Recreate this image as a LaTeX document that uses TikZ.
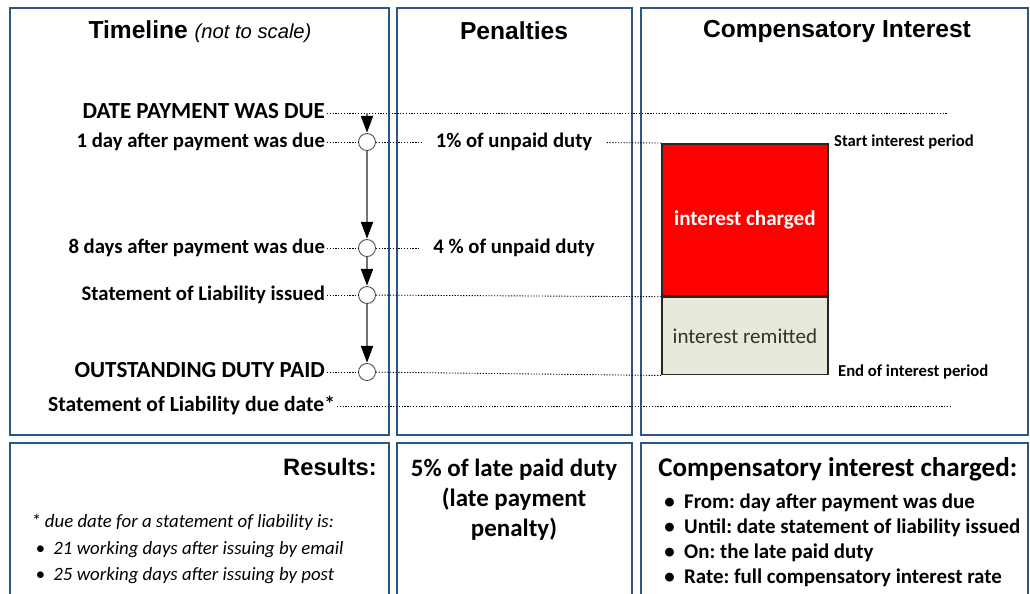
\documentclass[tikz,border=0pt]{standalone}
\usepackage{fontspec}
\setmainfont{Carlito}
\newfontfamily\headfont{Liberation Sans}
\usetikzlibrary{arrows.meta,positioning}
\definecolor{panelblue}{HTML}{2A5785}
\definecolor{remitfill}{HTML}{E5EADB}
\tikzset{
  panel/.style={draw=panelblue,line width=1.1pt},
  head/.style={font=\headfont\bfseries\fontsize{14}{16}\selectfont},
  lbl/.style={font=\bfseries\fontsize{11.8}{13}\selectfont,anchor=east,inner sep=1pt,text height=1.6ex,text depth=.3ex},
  caps/.style={lbl,font=\bfseries\fontsize{13.1}{14}\selectfont},
  pen/.style={font=\bfseries\fontsize{11.8}{13}\selectfont,inner xsep=8pt,text height=1.6ex,text depth=.3ex},
  side/.style={font=\bfseries\fontsize{9.5}{11}\selectfont,anchor=west,inner sep=1pt},
  dots/.style={dash pattern=on 0.7pt off 0.9pt,line width=0.5pt},
  tick/.style={draw=black!70,circle,fill=white,minimum size=0.34cm,inner sep=0pt,line width=0.5pt},
  flow/.style={draw=black!55,line width=0.6pt,-{Triangle[length=9.5pt,width=7pt,black]},shorten >=0.3pt},
  block/.style={draw=black!85,line width=1pt,minimum width=3.32cm,inner sep=0pt,font=\fontsize{12}{14}\selectfont}
}
\begin{document}
\frenchspacing
\begin{tikzpicture}[x=0.02cm,y=-0.02cm]
  \useasboundingbox (0,0) rectangle (1030,593);
  % panels
  \draw[panel] (10,8) rectangle (389,435);
  \draw[panel] (397,8) rectangle (632,435);
  \draw[panel] (641,8) rectangle (1028,435);
  \draw[panel] (10,443) rectangle (389,610);
  \draw[panel] (397,443) rectangle (632,610);
  \draw[panel] (641,443) rectangle (1028,610);

  % headings
  \node[head] (tlhead) at (200,32) {Timeline {\mdseries\itshape\fontsize{11.5}{13}\selectfont(not to scale)}};
  \node[head] (penhead) at (514,31) {Penalties};
  \node[head] (cihead) at (837,31) {Compensatory Interest};

  % timeline
  \coordinate (due) at (367,113);
  \coordinate (dueR) at (948,113);
  \coordinate (sldR) at (950,406);
  \node[tick] (c1) at (367,142) {};
  \node[tick] (c2) at (367,248) {};
  \node[tick] (c3) at (367,295) {};
  \node[tick] (c4) at (367,372) {};
  \coordinate (c2R) at (420,248);

  \node[caps] (l0) at (327,113) {DATE PAYMENT WAS DUE};
  \node[lbl] (l1) at (327,142) {1 day after payment was due};
  \node[lbl] (l2) at (327,248) {8 days after payment was due};
  \node[lbl] (l3) at (327,295) {Statement of Liability issued};
  \node[caps] (l4) at (327,372) {OUTSTANDING DUTY PAID};
  \node[lbl,font=\bfseries\fontsize{12.3}{14}\selectfont] (l5) at (337,406) {Statement of Liability due date*};

  \node[pen] (p1) at (514,142) {1\% of unpaid duty};
  \node[pen] (p2) at (514,248) {4 \% of unpaid duty};

  % interest blocks
  \node[block,fill=red,minimum height=3.04cm,anchor=north west,text=white,font=\bfseries\fontsize{12}{14}\selectfont] (charged) at (661,143) {interest charged};
  \node[block,fill=remitfill,minimum height=1.54cm,below=0pt of charged,text=black!80] (remit) {interest remitted};
  \node[side] (start) at (832,142) {Start interest period};
  \node[side] (end) at (836,372) {End of interest period};

  % dotted guides
  \draw[dots] (l0) -- (dueR);
  \draw[dots] (l1) -- (c1);
  \draw[dots] (c1) -- (p1);
  \draw[dots] (p1) -- (charged.north west);
  \draw[dots] (l2) -- (c2);
  \draw[dots] (c2) -- (c2R);
  \draw[dots] (l3) -- (c3);
  \draw[dots] (c3) -- (charged.south west);
  \draw[dots] (l4) -- (c4);
  \draw[dots] (c4) -- (remit.south west);
  \draw[dots] (l5) -- (sldR);

  % arrows
  \draw[flow] (due) -- (c1);
  \draw[flow] (c1) -- (c2);
  \draw[flow] (c2) -- (c3);
  \draw[flow] (c3) -- (c4);

  % results
  \node[head,font=\headfont\bfseries\fontsize{13.5}{16}\selectfont,anchor=east] (reshead) at (383,467) {Results:};
  \node[anchor=north west,align=left,inner sep=0pt,font=\itshape\fontsize{10.7}{15}\selectfont] (note) at (31,514)
    {* due date for a statement of liability is:\\
     \ \textbullet\ \ 21 working days after issuing by email\\
     \ \textbullet\ \ 25 working days after issuing by post};
  \node[align=center,font=\bfseries\fontsize{14.2}{17}\selectfont] (lpp) at (514,500)
    {5\% of late paid duty\\(late payment\\penalty)};
  \node[anchor=west,inner sep=0pt,font=\bfseries\fontsize{15.4}{17}\selectfont] (cich) at (658,469) {Compensatory interest charged:};
  \node[anchor=north west,align=left,inner sep=0pt,font=\bfseries\fontsize{11.9}{14.4}\selectfont] (cilist) at (664,493)
    {\textbullet\ \ From: day after payment was due\\
     \textbullet\ \ Until: date statement of liability issued\\
     \textbullet\ \ On: the late paid duty\\
     \textbullet\ \ Rate: full compensatory interest rate};
\end{tikzpicture}
\end{document}
